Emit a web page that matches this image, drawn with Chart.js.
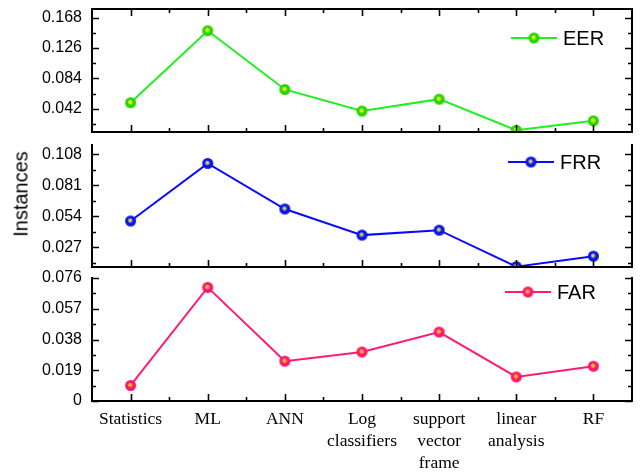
<!DOCTYPE html>
<html>
<head>
<meta charset="utf-8">
<script src="https://cdn.jsdelivr.net/npm/chart.js@4/dist/chart.umd.min.js"></script>
<style>
  html, body { margin: 0; padding: 0; background: #fff; }
  #wrap { position: relative; width: 642px; height: 473px; overflow: hidden; }
  #wrap canvas { position: absolute; left: 0; top: -100px; }
  #ylab {
    position: absolute; left: 21px; top: 194px;
    transform: translate(-50%, -50%) rotate(-90deg);
    font: 20px "Liberation Sans", Arial, sans-serif; color: #000; white-space: nowrap;
  }
</style>
</head>
<body>
<div id="wrap">
  <canvas id="cEER" width="642" height="573"></canvas>
  <canvas id="cFRR" width="642" height="573"></canvas>
  <canvas id="cFAR" width="642" height="573"></canvas>
  <div id="ylab">Instances</div>
</div>
<script>
// Methods compared along the shared x axis
const methods = ['Statistics', 'ML', 'ANN', ['Log', 'classifiers'], ['support', 'vector', 'frame'], ['linear', 'analysis'], 'RF'];

// Error rates per method
const eer = [0.0505, 0.150, 0.0688, 0.0390, 0.0554, 0.0125, 0.0254];
const frr = [0.0500, 0.1000, 0.0604, 0.0377, 0.0420, 0.0103, 0.0194];
const far = [0.0096, 0.0702, 0.0246, 0.0303, 0.0426, 0.0149, 0.0215];

// Labelled y ticks of each panel
const eerTicks = [0.042, 0.084, 0.126, 0.168];
const frrTicks = [0.027, 0.054, 0.081, 0.108];
const farTicks = [0, 0.019, 0.038, 0.057, 0.076];

// Value range of each panel
const eerRange = [0.01, 0.18];
const frrRange = [0.01, 0.116];
const farRange = [0, 0.076];

// Each canvas is shifted up by this many pixels so every panel gets a roomy top padding
const SHIFT = 100;

// Shaded ball marker
function sphere(dark, light, r) {
  const size = Math.ceil(r * 2 + 2);
  const c = document.createElement('canvas');
  c.width = c.height = size;
  const g = c.getContext('2d');
  const cx = size / 2, cy = size / 2;
  const grad = g.createRadialGradient(cx - 0.6, cy - 0.8, 0.2, cx, cy, r);
  grad.addColorStop(0, light);
  grad.addColorStop(0.18, light);
  grad.addColorStop(0.5, dark);
  grad.addColorStop(1, dark);
  g.fillStyle = grad;
  g.beginPath();
  g.arc(cx, cy, r, 0, Math.PI * 2);
  g.fill();
  return c;
}

// Axis frame with inward major/minor ticks on every side
const framePlugin = {
  id: 'frame',
  afterDatasetsDraw(chart, args, opts) {
    const { ctx, chartArea: a, scales } = chart;
    const xs = scales.x, ys = scales.y;
    const major = 7, minor = 4;
    ctx.save();
    ctx.strokeStyle = '#000';
    ctx.lineCap = 'square';
    ctx.lineWidth = 2;
    ctx.beginPath();
    ctx.moveTo(a.left, a.top); ctx.lineTo(a.left, a.bottom);
    ctx.lineTo(a.right, a.bottom); ctx.lineTo(a.right, a.top);
    if (opts.top) ctx.lineTo(a.left, a.top);
    ctx.stroke();
    ctx.lineCap = 'butt';
    ctx.lineWidth = 1.6;
    ctx.beginPath();
    const yt = opts.ticks;
    const step = yt[1] - yt[0];
    const yMinor = [];
    for (let v = yt[0] - step / 2; v <= ys.max + 1e-9; v += step) if (v >= ys.min - 1e-9) yMinor.push(v);
    const yTick = (v, len) => {
      const p = Math.round(ys.getPixelForValue(v)) + 0.5;
      ctx.moveTo(a.left, p); ctx.lineTo(a.left + len, p);
      ctx.moveTo(a.right, p); ctx.lineTo(a.right - len, p);
    };
    yt.forEach(v => yTick(v, major));
    yMinor.forEach(v => yTick(v, minor));
    const n = chart.data.labels.length;
    const xTick = (p, len) => {
      p = Math.round(p) + 0.5;
      ctx.moveTo(p, a.bottom); ctx.lineTo(p, a.bottom - len);
      if (opts.top) { ctx.moveTo(p, a.top); ctx.lineTo(p, a.top + len); }
    };
    for (let i = 0; i < n; i++) {
      xTick(xs.getPixelForValue(i), major);
      if (i < n - 1) xTick((xs.getPixelForValue(i) + xs.getPixelForValue(i + 1)) / 2, minor);
    }
    ctx.stroke();
    ctx.restore();
  }
};

// In-panel legend: line with marker and series name
const keyPlugin = {
  id: 'key',
  afterDraw(chart, args, opts) {
    const { ctx } = chart;
    const ds = chart.data.datasets[0];
    const x0 = opts.x, y = opts.y + SHIFT, len = 46;
    ctx.save();
    ctx.strokeStyle = ds.borderColor;
    ctx.lineWidth = 2;
    ctx.beginPath();
    ctx.moveTo(x0, y); ctx.lineTo(x0 + len, y);
    ctx.stroke();
    const img = ds.pointStyle;
    ctx.drawImage(img, x0 + len / 2 - img.width / 2, y - img.height / 2);
    ctx.fillStyle = '#000';
    ctx.font = '20px "Liberation Sans", Arial, sans-serif';
    ctx.textBaseline = 'middle';
    ctx.textAlign = 'left';
    ctx.fillText(ds.label, x0 + len + 6, y + 1);
    ctx.restore();
  }
};

function panel(id, label, values, color, marker, range, ticks, layout) {
  const pad = Object.assign({}, layout.padding, { top: layout.padding.top + SHIFT });
  return new Chart(document.getElementById(id), {
    type: 'line',
    data: {
      labels: methods,
      datasets: [{
        label: label,
        data: values,
        borderColor: color,
        borderWidth: 2,
        pointStyle: marker,
        pointRadius: 6,
        tension: 0
      }]
    },
    options: {
      responsive: false,
      animation: false,
      events: [],
      layout: { padding: pad },
      plugins: {
        legend: { display: false },
        tooltip: { enabled: false },
        frame: { ticks: ticks, top: layout.top },
        key: layout.key
      },
      scales: {
        x: {
          type: 'category',
          offset: true,
          display: layout.showX,
          grid: { display: false, drawTicks: false },
          border: { display: false },
          ticks: {
            autoSkip: false, maxRotation: 0, minRotation: 0,
            padding: 7,
            color: '#000',
            font: { family: '"Liberation Serif", "Times New Roman", serif', size: 17.5, lineHeight: 1.26 }
          },
          afterFit(s) { if (layout.showX) s.height = 72; }
        },
        y: {
          min: range[0],
          max: range[1],
          grid: { display: false, drawTicks: false },
          border: { display: false },
          ticks: {
            autoSkip: false,
            padding: 10,
            color: '#000',
            font: { family: '"Liberation Sans", Arial, sans-serif', size: 16 },
            callback: v => (v === 0 ? '0' : v.toFixed(3))
          },
          afterBuildTicks(s) { s.ticks = ticks.map(v => ({ value: v })); },
          afterFit(s) { s.width = 92; }
        }
      }
    },
    plugins: [framePlugin, keyPlugin]
  });
}

panel('cEER', 'EER', eer, '#1ff01f', sphere('#2ad400', '#eaff2a', 5.5), eerRange, eerTicks, {
  padding: { left: 0, right: 10, top: 9, bottom: 341 }, top: true, showX: false, key: { x: 511, y: 38 }
});
panel('cFRR', 'FRR', frr, '#0a0aff', sphere('#0a14e8', '#d8d858', 5.5), frrRange, frrTicks, {
  padding: { left: 0, right: 10, top: 145, bottom: 206 }, top: false, showX: false, key: { x: 508, y: 162 }
});
panel('cFAR', 'FAR', far, '#ff1a75', sphere('#ff1670', '#ffc81e', 5.5), farRange, farTicks, {
  padding: { left: 0, right: 10, top: 278, bottom: 0 }, top: false, showX: true, key: { x: 505, y: 292 }
});
</script>
</body>
</html>
